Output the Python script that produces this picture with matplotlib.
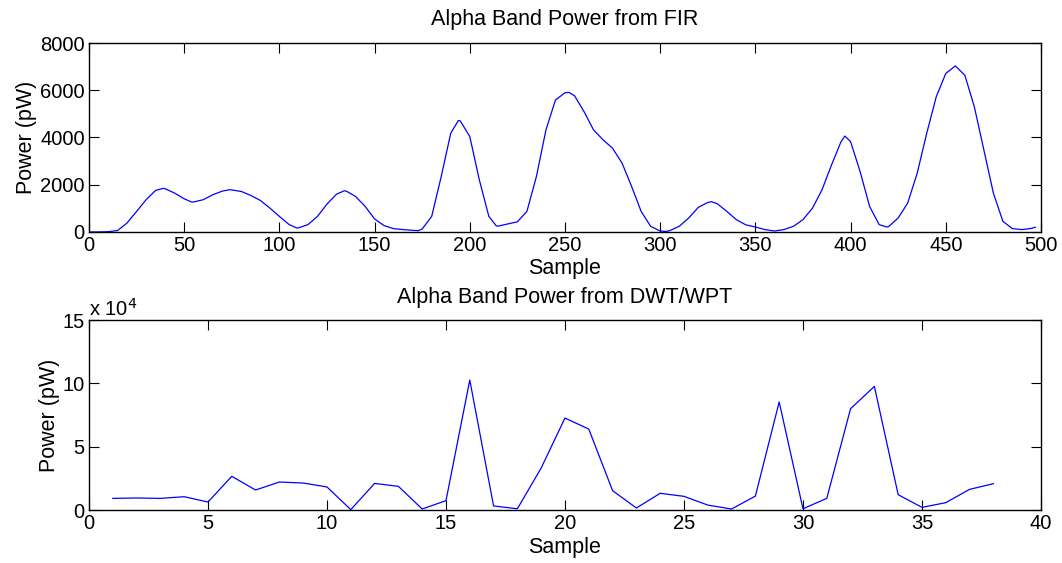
import numpy as np
import matplotlib
matplotlib.use("Agg")
import matplotlib.pyplot as plt
from matplotlib.ticker import FuncFormatter

plt.rcParams['font.family'] = ['Liberation Sans', 'DejaVu Sans']

# FIR band power
fir_sample = [0, 5, 10, 15, 20, 25, 30, 35, 39, 40, 45, 50, 54, 55, 60, 65, 70, 74,
              80, 85, 90, 95, 100, 105, 109, 110, 115, 120, 125, 130, 134, 135, 140,
              145, 150, 155, 160, 165, 170, 173, 175, 180, 185, 190, 194, 195, 200,
              205, 210, 214, 215, 220, 225, 230, 235, 240, 245, 250, 252, 255, 260,
              265, 270, 275, 280, 285, 290, 295, 300, 303, 305, 310, 315, 320, 325,
              327, 330, 335, 340, 345, 350, 355, 360, 365, 370, 375, 380, 385, 390,
              395, 397, 400, 405, 410, 415, 419, 420, 425, 430, 435, 440, 445, 450,
              455, 460, 465, 470, 475, 480, 485, 490, 495, 497]
fir_power = [0, 0, 10, 60, 380, 870, 1365, 1760, 1845, 1830, 1645, 1405, 1265, 1270,
             1365, 1575, 1730, 1790, 1715, 1545, 1335, 1010, 660, 320, 170, 175, 310,
             660, 1180, 1600, 1740, 1735, 1505, 1085, 550, 270, 140, 100, 70, 55, 125,
             660, 2350, 4180, 4720, 4700, 4040, 2210, 660, 250, 250, 340, 430, 870,
             2350, 4320, 5585, 5895, 5910, 5770, 5095, 4320, 3900, 3545, 2910, 1925,
             870, 240, 40, 20, 55, 240, 590, 1040, 1250, 1280, 1195, 870, 520, 300,
             210, 100, 40, 100, 240, 520, 1010, 1785, 2840, 3825, 4060, 3825, 2560,
             1080, 310, 210, 230, 590, 1225, 2490, 4180, 5725, 6710, 7030, 6640, 5300,
             3475, 1645, 450, 140, 100, 150, 200]

# DWT/WPT band power, one value per sample 1..38
dwt_sample = list(range(1, 39))
dwt_power = [9200, 9500, 9200, 10500, 6300, 26600, 15800, 22100, 21300, 18200,
             300, 21000, 18700, 800, 7400, 102600, 3200, 1000, 33200, 72600,
             63900, 15300, 1600, 13200, 10800, 3900, 800, 11000, 85300, 1000,
             9200, 80000, 97600, 12100, 2100, 5800, 16300, 20800]

fig = plt.figure(figsize=(10.62, 5.63), dpi=100)
ax1 = fig.add_axes([0.0838, 0.588, 0.8964, 0.3356])
ax2 = fig.add_axes([0.0838, 0.0941, 0.8964, 0.3375])

fs_tick = 14.5
fs_lab = 15.5

ax1.plot(fir_sample, fir_power, color='blue', lw=0.9)
ax1.set_xlim(0, 500)
ax1.set_ylim(0, 8000)
ax1.set_xticks(np.arange(0, 501, 50))
ax1.set_yticks(np.arange(0, 8001, 2000))
ax1.set_title('Alpha Band Power from FIR', fontsize=fs_lab, pad=13)
ax1.set_xlabel('Sample', fontsize=fs_lab, labelpad=2)
ax1.set_ylabel('Power (pW)', fontsize=fs_lab, labelpad=2)

ax2.plot(dwt_sample, dwt_power, color='blue', lw=0.9)
ax2.set_xlim(0, 40)
ax2.set_ylim(0, 150000)
ax2.set_xticks(np.arange(0, 41, 5))
ax2.set_yticks(np.arange(0, 150001, 50000))
ax2.yaxis.set_major_formatter(FuncFormatter(lambda v, p: '%d' % round(v / 1e4)))
ax2.set_title('Alpha Band Power from DWT/WPT', fontsize=fs_lab, pad=12)
ax2.set_xlabel('Sample', fontsize=fs_lab, labelpad=3)
ax2.set_ylabel('Power (pW)', fontsize=fs_lab, labelpad=2)
ax2.text(0.0, 1.0, r'x 10$^{4}$', transform=ax2.transAxes, fontsize=fs_tick,
         ha='left', va='bottom')

for ax in (ax1, ax2):
    ax.tick_params(direction='in', length=7, width=0.8, top=True, right=True,
                   labelsize=fs_tick, pad=3)
    for s in ax.spines.values():
        s.set_linewidth(1.0)

fig.savefig('out.png', dpi=100)
